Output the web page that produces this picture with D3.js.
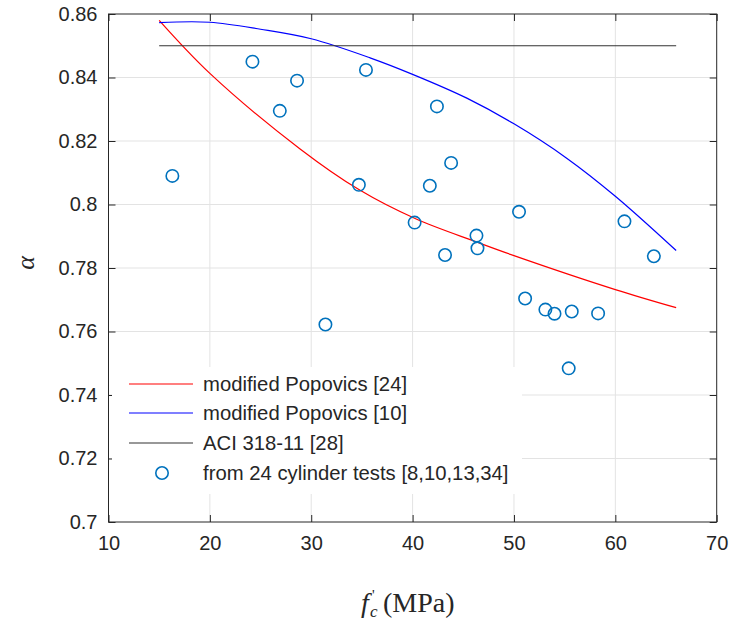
<!DOCTYPE html>
<html>
<head>
<meta charset="utf-8">
<script src="https://cdn.jsdelivr.net/npm/d3@7"></script>
<style>
  html, body { margin: 0; padding: 0; background: #fff; }
  svg { display: block; }
</style>
</head>
<body>
<div id="chart"></div>
<script>
const INK = '#262626';
const GRID = '#e3e3e3';
const MARKER = '#0072bd';

// ticks
const xTicks = [10, 20, 30, 40, 50, 60, 70];
const yTicks = [0.7, 0.72, 0.74, 0.76, 0.78, 0.8, 0.82, 0.84, 0.86];

// curves
const redX  = [15, 20, 28.9, 34.7, 40.3, 46.3, 50, 60, 66];
const redY  = [0.858, 0.8413, 0.8175, 0.8047, 0.7955, 0.7882, 0.7839, 0.7732, 0.7675];
const blueX = [15, 20, 25, 30, 35.8, 40, 45.35, 50, 55.2, 60, 66];
const blueY = [0.8573, 0.8574, 0.8552, 0.8522, 0.8462, 0.8410, 0.8335, 0.8254, 0.8146, 0.8026, 0.7855];
const aciX = [15, 66];
const aciY = [0.85, 0.85];

// cylinder tests
const testFc = [16.3, 24.2, 26.9, 28.6, 31.4, 34.7, 35.4, 40.2, 41.7, 42.4, 43.2, 43.8,
                46.3, 46.4, 50.5, 51.1, 53.1, 54.0, 55.4, 55.7, 58.3, 60.9, 63.8];
const testAlpha = [0.809, 0.845, 0.8295, 0.839, 0.7622, 0.8062, 0.8424, 0.7943, 0.8059, 0.8309, 0.7841, 0.8131,
                   0.7902, 0.7862, 0.7977, 0.7704, 0.7669, 0.7656, 0.7484, 0.7663, 0.7657, 0.7947, 0.7837];

const legendItems = [
  { label: 'modified Popovics [24]', type: 'line', color: '#ff0000' },
  { label: 'modified Popovics [10]', type: 'line', color: '#0000ff' },
  { label: 'ACI 318-11 [28]', type: 'line', color: '#333333' },
  { label: 'from 24 cylinder tests [8,10,13,34]', type: 'circle', color: MARKER }
];

const W = 730, H = 624;
const pLeft = 108.5, pRight = 716.7, pTop = 14, pBottom = 522;

const x = d3.scaleLinear().domain([10, 70]).range([pLeft, pRight]);
const y = d3.scaleLinear().domain([0.7, 0.86]).range([pBottom, pTop]);

const svg = d3.select('#chart').append('svg')
  .attr('width', W).attr('height', H)
  .attr('viewBox', `0 0 ${W} ${H}`);

// grid
svg.append('g').selectAll('line')
  .data(xTicks.slice(1, -1))
  .join('line')
  .attr('x1', d => x(d)).attr('x2', d => x(d))
  .attr('y1', pTop).attr('y2', pBottom)
  .attr('stroke', GRID).attr('stroke-width', 1);
svg.append('g').selectAll('line')
  .data(yTicks.slice(1, -1))
  .join('line')
  .attr('x1', pLeft).attr('x2', pRight)
  .attr('y1', d => y(d)).attr('y2', d => y(d))
  .attr('stroke', GRID).attr('stroke-width', 1);

// axes, ticks inside, mirrored on top and right
const tickLen = 7;
const xAxisB = d3.axisBottom(x).tickValues(xTicks).tickSize(-tickLen).tickPadding(10).tickFormat(d3.format('d'));
const xAxisT = d3.axisTop(x).tickValues(xTicks).tickSize(-tickLen).tickFormat('');
const yAxisL = d3.axisLeft(y).tickValues(yTicks).tickSize(-tickLen).tickPadding(11).tickFormat(d => String(+d.toFixed(2)));
const yAxisR = d3.axisRight(y).tickValues(yTicks).tickSize(-tickLen).tickFormat('');

function styleAxis(g) {
  g.select('.domain').remove();
  g.selectAll('.tick line').attr('stroke', INK).attr('stroke-width', 1);
  g.selectAll('.tick text')
    .attr('fill', INK)
    .attr('font-family', '"Liberation Sans", Arial, sans-serif')
    .attr('font-size', 20);
}
svg.append('g').attr('transform', `translate(0,${pBottom})`).call(xAxisB).call(styleAxis)
  .selectAll('.tick text').attr('dy', '0.9em');
svg.append('g').attr('transform', `translate(0,${pTop})`).call(xAxisT).call(styleAxis);
svg.append('g').attr('transform', `translate(${pLeft},0)`).call(yAxisL).call(styleAxis);
svg.append('g').attr('transform', `translate(${pRight},0)`).call(yAxisR).call(styleAxis);

// box
svg.append('rect')
  .attr('x', pLeft).attr('y', pTop)
  .attr('width', pRight - pLeft).attr('height', pBottom - pTop)
  .attr('fill', 'none').attr('stroke', INK).attr('stroke-width', 1);

// legend background (hides grid)
const lg = svg.append('g');
lg.append('rect')
  .attr('x', 112).attr('y', 367).attr('width', 410).attr('height', 127)
  .attr('fill', '#fff');

// curves
const line = d3.line().x(d => x(d[0])).y(d => y(d[1])).curve(d3.curveCatmullRom.alpha(0.5));
svg.append('path')
  .datum(d3.zip(redX, redY))
  .attr('d', line).attr('fill', 'none').attr('stroke', '#ff0000').attr('stroke-width', 1.2);
svg.append('path')
  .datum(d3.zip(blueX, blueY))
  .attr('d', line).attr('fill', 'none').attr('stroke', '#0000ff').attr('stroke-width', 1.2);
svg.append('path')
  .datum(d3.zip(aciX, aciY))
  .attr('d', d3.line().x(d => x(d[0])).y(d => y(d[1])))
  .attr('fill', 'none').attr('stroke', '#333333').attr('stroke-width', 1.2);

// test points
svg.append('g').selectAll('circle')
  .data(d3.zip(testFc, testAlpha))
  .join('circle')
  .attr('cx', d => x(d[0])).attr('cy', d => y(d[1]))
  .attr('r', 6.2)
  .attr('fill', 'none').attr('stroke', MARKER).attr('stroke-width', 1.6);

// legend entries
const rowY = [384, 413, 443, 473];
const item = lg.selectAll('.item')
  .data(legendItems)
  .join('g')
  .attr('class', 'item')
  .attr('transform', (d, i) => `translate(0,${rowY[i]})`);
item.filter(d => d.type === 'line').append('line')
  .attr('x1', 129).attr('x2', 193).attr('y1', 0).attr('y2', 0)
  .attr('stroke', d => d.color).attr('stroke-width', 1.2);
item.filter(d => d.type === 'circle').append('circle')
  .attr('cx', 162).attr('cy', 0).attr('r', 6.2)
  .attr('fill', 'none').attr('stroke', d => d.color).attr('stroke-width', 1.6);
item.append('text')
  .attr('x', 203).attr('y', 0).attr('dy', '0.35em')
  .attr('font-family', '"Liberation Sans", Arial, sans-serif')
  .attr('font-size', 20.3)
  .attr('fill', INK)
  .text(d => d.label);

// axis labels
const SERIF = '"Liberation Serif", "Times New Roman", serif';
svg.append('text')
  .attr('transform', 'translate(34,263) rotate(-90)')
  .attr('text-anchor', 'middle')
  .attr('font-family', SERIF)
  .attr('font-style', 'italic')
  .attr('font-size', 26)
  .attr('fill', INK)
  .text('α');

const xl = svg.append('g')
  .attr('font-family', SERIF)
  .attr('fill', INK);
xl.append('text').attr('x', 361).attr('y', 612)
  .attr('font-style', 'italic').attr('font-size', 28).text('f');
xl.append('text').attr('x', 370).attr('y', 617)
  .attr('font-style', 'italic').attr('font-size', 17).text('c');
xl.append('text').attr('x', 372).attr('y', 600)
  .attr('font-size', 15).text("'");
xl.append('text').attr('x', 383).attr('y', 612)
  .attr('font-size', 28).text('(MPa)');
</script>
</body>
</html>
